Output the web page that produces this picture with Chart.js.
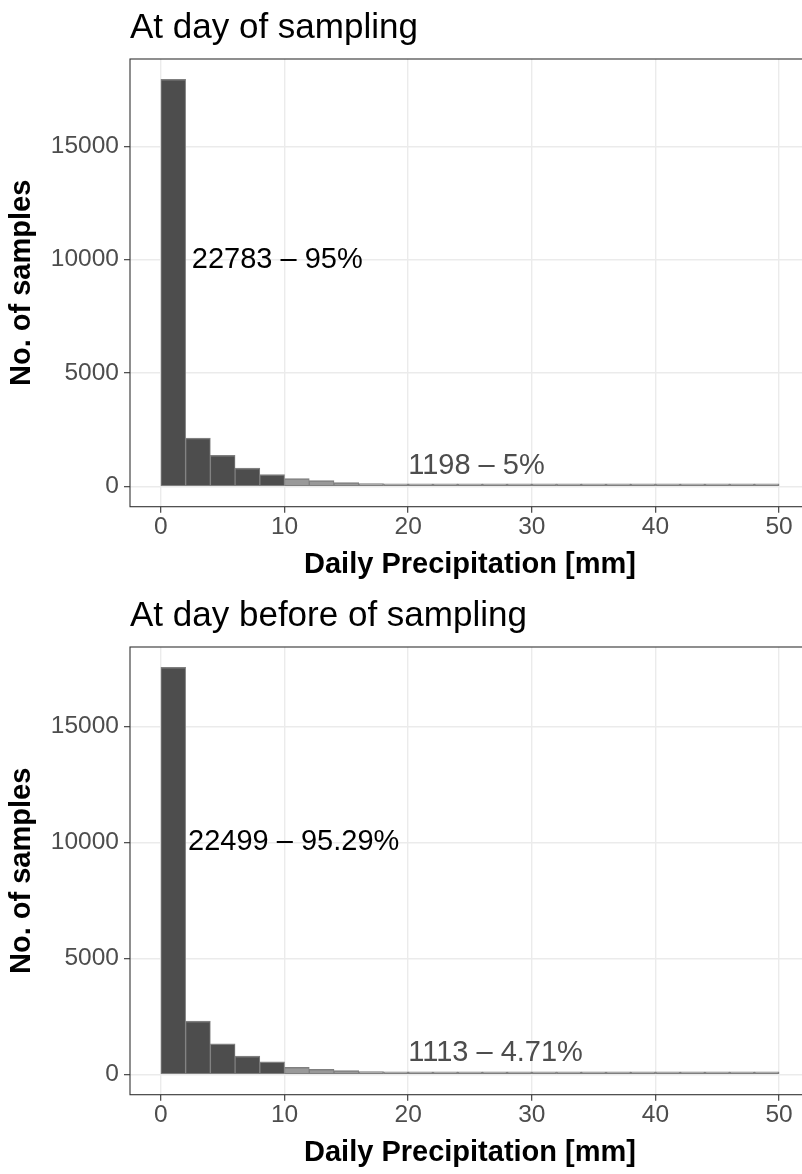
<!DOCTYPE html>
<html lang="en">
<head>
<meta charset="utf-8">
<title>Daily Precipitation</title>
<script src="https://cdn.jsdelivr.net/npm/chart.js@4.4.1/dist/chart.umd.min.js"></script>
<style>
  html, body { margin: 0; padding: 0; background: #fff; overflow: hidden; }
  #contenedor { position: relative; width: 802px; height: 1174px; overflow: hidden; }
  canvas { position: absolute; left: 0; }
  #graficoDia { top: 0; }
  #graficoDiaAnterior { top: 588px; }
</style>
</head>
<body>
<div id="contenedor">
  <canvas id="graficoDia" width="820" height="587"></canvas>
  <canvas id="graficoDiaAnterior" width="820" height="587"></canvas>
</div>
<script>
//Centro de cada bin de 2 mm
const bins = [1, 3, 5, 7, 9, 11, 13, 15, 17, 19, 21, 23, 25, 27, 29, 31, 33, 35, 37, 39, 41, 43, 45, 47, 49];

//Numero de muestras por bin
const muestrasDia = [17950, 2130, 1370, 810, 523, 340, 250, 170, 125, 90, 55, 40, 30, 22, 18, 14, 10, 8, 7, 5, 4, 3, 3, 2, 2];
const muestrasDiaAnterior = [17550, 2300, 1320, 790, 539, 300, 215, 160, 120, 85, 55, 40, 30, 23, 18, 15, 12, 9, 8, 6, 5, 4, 3, 3, 2];

//Ticks de los ejes
const xTicks = [0, 10, 20, 30, 40, 50];
const yTicks = [0, 5000, 10000, 15000];

//Etiquetas de texto y su posicion en unidades de datos [mm, muestras]
const etiquetasDia = ['22783 – 95%', '1198 – 5%'];
const posicionesDia = [[2.5, 10000], [20, 900]];
const etiquetasDiaAnterior = ['22499 – 95.29%', '1113 – 4.71%'];
const posicionesDiaAnterior = [[2.2, 10000], [20, 900]];

const fuente = "'Liberation Sans', Arial, Helvetica, sans-serif";

document.addEventListener('DOMContentLoaded', function() {

    //Marco del panel (los cuatro lados)
    const marcoPanel = {
        id: 'marcoPanel',
        afterDatasetsDraw(chart) {
            const { ctx, chartArea: a } = chart;
            ctx.save();
            ctx.strokeStyle = '#333333';
            ctx.lineWidth = 1.1;
            ctx.strokeRect(a.left, a.top, a.right - a.left, a.bottom - a.top);
            ctx.restore();
        }
    };

    //Textos dentro del grafico
    const etiquetas = {
        id: 'etiquetas',
        afterDatasetsDraw(chart, args, opts) {
            const { ctx, scales } = chart;
            ctx.save();
            ctx.font = '29px ' + fuente;
            ctx.textAlign = 'left';
            ctx.textBaseline = 'middle';
            opts.textos.forEach((texto, i) => {
                const [px, py] = opts.posiciones[i];
                ctx.fillStyle = i === 0 ? '#000000' : '#4D4D4D';
                ctx.fillText(texto, scales.x.getPixelForValue(px), scales.y.getPixelForValue(py));
            });
            ctx.restore();
        }
    };

    createHistogram('graficoDia', 'At day of sampling', muestrasDia, etiquetasDia, posicionesDia);
    createHistogram('graficoDiaAnterior', 'At day before of sampling', muestrasDiaAnterior, etiquetasDiaAnterior, posicionesDiaAnterior);

    //Funcion para crear un histograma
    function createHistogram(canvasId, titulo, muestras, textos, posiciones) {
        const ctx = document.getElementById(canvasId).getContext('2d');

        //Expansion del 5% como en ggplot
        const xLo = bins[0] - 1;
        const xHi = bins[bins.length - 1] + 1;
        const xPad = (xHi - xLo) * 0.05;
        const yMax = Math.max(...muestras);

        const grid = {
            color: '#EBEBEB',
            lineWidth: 1.4,
            offset: false,
            drawTicks: true,
            tickLength: 6,
            tickColor: '#333333',
            tickWidth: 1.1
        };

        new Chart(ctx, {
            type: 'bar',
            data: {
                datasets: [{
                    data: bins.map((b, i) => ({ x: b, y: muestras[i] })),
                    backgroundColor: bins.map(b => b < 10 ? '#4D4D4D' : '#999999'),
                    borderColor: '#7F7F7F',
                    borderWidth: { top: 1.5, left: 1, right: 1, bottom: 1 },
                    borderSkipped: false,
                    barPercentage: 1,
                    categoryPercentage: 1,
                    minBarLength: 2.5
                }]
            },
            options: {
                responsive: false,
                animation: false,
                events: [],
                layout: { padding: { left: 0, right: 10, top: 0, bottom: 0 } },
                plugins: {
                    legend: { display: false },
                    tooltip: { enabled: false },
                    title: {
                        display: true,
                        text: titulo,
                        align: 'start',
                        fullSize: false,
                        color: '#000000',
                        font: { family: fuente, size: 35, weight: 'normal' },
                        padding: { top: 7, bottom: 10 }
                    },
                    etiquetas: { textos: textos, posiciones: posiciones }
                },
                scales: {
                    x: {
                        type: 'linear',
                        min: xLo - xPad,
                        max: xHi + xPad,
                        offset: false,
                        afterBuildTicks: s => { s.ticks = xTicks.map(v => ({ value: v })); },
                        afterFit: s => { s.height = 80.3; },
                        grid: grid,
                        border: { display: false },
                        ticks: {
                            color: '#4D4D4D',
                            font: { family: fuente, size: 24.5 },
                            padding: 0,
                            maxRotation: 0,
                            autoSkip: false
                        },
                        title: {
                            display: true,
                            text: 'Daily Precipitation [mm]',
                            color: '#000000',
                            font: { family: fuente, size: 29, weight: 'bold' },
                            padding: { top: 0, bottom: 5 }
                        }
                    },
                    y: {
                        type: 'linear',
                        min: -yMax * 0.05,
                        max: yMax * 1.05,
                        afterBuildTicks: s => { s.ticks = yTicks.map(v => ({ value: v })); },
                        afterFit: s => { s.width = 130; },
                        grid: grid,
                        border: { display: false },
                        ticks: {
                            color: '#4D4D4D',
                            font: { family: fuente, size: 24.5 },
                            padding: 5,
                            callback: v => String(v)
                        },
                        title: {
                            display: true,
                            text: 'No. of samples',
                            color: '#000000',
                            font: { family: fuente, size: 29, weight: 'bold' },
                            padding: { top: 5, bottom: 0 }
                        }
                    }
                }
            },
            plugins: [marcoPanel, etiquetas]
        });
    }
});
</script>
</body>
</html>
